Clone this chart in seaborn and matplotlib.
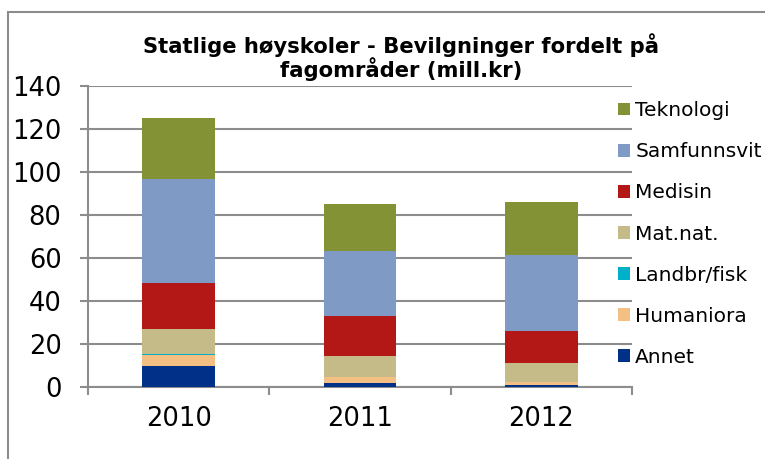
import numpy as np
import pandas as pd
import matplotlib
matplotlib.use("Agg")
import matplotlib.pyplot as plt
import seaborn as sns
from matplotlib.patches import Patch, Rectangle

# ==========================
# DATA (mill. kr)
# ==========================

years = ["2010", "2011", "2012"]

annet = [9.8, 1.5, 0.8]
humaniora = [5.0, 3.0, 1.3]
landbr_fisk = [0.5, 0.1, 0.1]
mat_nat = [11.6, 9.9, 8.8]
medisin = [21.6, 18.2, 14.8]
samfunnsvit = [48.1, 30.4, 35.3]
teknologi = [28.6, 22.0, 25.1]

fields = ["Annet", "Humaniora", "Landbr/fisk", "Mat.nat.",
          "Medisin", "Samfunnsvit", "Teknologi"]

colors = {
    "Annet": "#003087",
    "Humaniora": "#F4BF82",
    "Landbr/fisk": "#00B0C8",
    "Mat.nat.": "#C4BB88",
    "Medisin": "#B31716",
    "Samfunnsvit": "#7F9AC4",
    "Teknologi": "#849236",
}

df = pd.DataFrame(
    {
        "Annet": annet,
        "Humaniora": humaniora,
        "Landbr/fisk": landbr_fisk,
        "Mat.nat.": mat_nat,
        "Medisin": medisin,
        "Samfunnsvit": samfunnsvit,
        "Teknologi": teknologi,
    },
    index=years,
)

# cumulative sums for stacking
cum = df[fields].cumsum(axis=1)

# ==========================
# PLOT
# ==========================

sns.set_style("white")
plt.rcParams["font.family"] = ["DejaVu Sans"]
plt.rcParams["text.color"] = "black"
plt.rcParams["xtick.color"] = "black"
plt.rcParams["ytick.color"] = "black"

fig = plt.figure(figsize=(7.65, 4.59), dpi=100)
ax = fig.add_axes([88 / 765, 1 - 386.7 / 459, (632 - 88) / 765, (386.7 - 86) / 459])

# draw from top layer down so each lower layer covers the one above
for f in reversed(fields):
    sns.barplot(
        x=years,
        y=cum[f].values,
        color=colors[f],
        width=0.4,
        saturation=1,
        linewidth=0,
        edgecolor="none",
        ax=ax,
        zorder=3,
    )

ax.set_ylim(0, 140)
ax.set_xlim(-0.5, 2.5)
ax.set_yticks(np.arange(0, 141, 20))
ax.yaxis.grid(True, color="#8C8C8C", linewidth=1.5, zorder=0)
ax.xaxis.grid(False)
ax.set_axisbelow(True)

for side in ["top", "right"]:
    ax.spines[side].set_visible(False)
for side in ["left", "bottom"]:
    ax.spines[side].set_color("#8C8C8C")
    ax.spines[side].set_linewidth(1.5)

ax.tick_params(axis="y", labelsize=18.5, length=6, width=1.5,
               color="#8C8C8C", labelcolor="black", pad=13, left=True)
ax.set_xticks([0, 1, 2])
ax.set_xticklabels(years)
ax.set_xticks([-0.5, 0.5, 1.5, 2.5], minor=True)
ax.tick_params(axis="x", which="major", labelsize=18.5, length=0,
               labelcolor="black", pad=14)
ax.tick_params(axis="x", which="minor", length=6, width=1.5,
               color="#8C8C8C", bottom=True)
ax.set_xlabel("")
ax.set_ylabel("")

# ==========================
# LEGEND
# ==========================

handles = [Patch(facecolor=colors[f], edgecolor="none") for f in reversed(fields)]
fig.legend(
    handles,
    list(reversed(fields)),
    loc="upper left",
    bbox_to_anchor=(610 / 765, 1 - 93 / 459),
    frameon=False,
    fontsize=14.5,
    handlelength=0.6,
    handleheight=0.6,
    handletextpad=0.25,
    labelspacing=1.1,
    borderaxespad=0,
)

# ==========================
# TITLE + BORDER
# ==========================

fig.text(
    401 / 765,
    1 - 57 / 459,
    "Statlige høyskoler - Bevilgninger fordelt på\nfagområder (mill.kr)",
    ha="center",
    va="center",
    fontsize=15.2,
    fontweight="bold",
    linespacing=1.05,
    color="black",
)

fig.add_artist(
    Rectangle(
        (8 / 765, -0.1),
        1.2,
        (459 - 12) / 459 + 0.1,
        transform=fig.transFigure,
        fill=False,
        edgecolor="#8C8C8C",
        linewidth=1.5,
    )
)

fig.savefig("out.png", dpi=100)
